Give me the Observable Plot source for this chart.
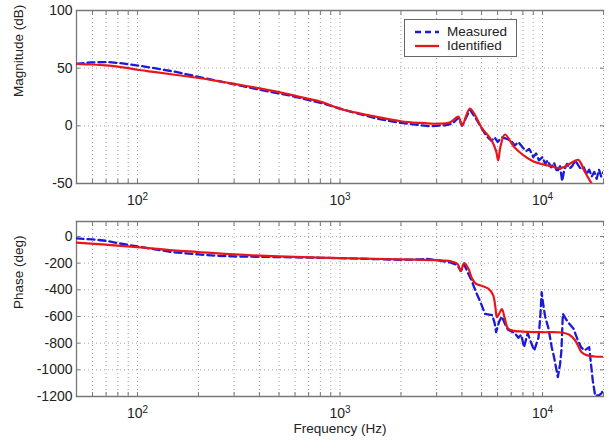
<!DOCTYPE html>
<html><head><meta charset="utf-8">
<script src="https://cdn.jsdelivr.net/npm/d3@7"></script>
<script src="https://cdn.jsdelivr.net/npm/@observablehq/plot@0.6"></script>
<style>
body{margin:0;background:#fff;}
#chart{position:relative;width:614px;height:443px;font-family:"Liberation Sans",Arial,sans-serif;color:#222;}
#chart svg{display:block;overflow:visible;}
.legend{position:absolute;left:404px;top:19px;width:113px;height:38px;box-sizing:border-box;border:1px solid #666;background:#fff;font-size:13.5px;}
.legend .row{position:absolute;left:0;height:14px;line-height:14px;}
.legend svg{position:absolute;left:10px;}
.legend span{position:absolute;left:42px;white-space:nowrap;}
</style></head><body>
<div id="chart"></div>
<script>
// ---- Data ----
const xDomain = [50, 20000];
const decadeTicks = [100, 1000, 10000];
const minorTicks = [60,70,80,90,100,200,300,400,500,600,700,800,900,1000,2000,3000,4000,5000,6000,7000,8000,9000,10000,20000];
const magTicks = [-50, 0, 50, 100];
const phaseTicks = [-1200, -1000, -800, -600, -400, -200, 0];
const seriesNames = ["Measured", "Identified"];

// Identified (fitted model)
const identMagFreq = [50,60,70,80,90,100,120,150,200,250,300,400,500,600,700,800,1000,1200,1500,2000,2500,3000,3500,3840,4010,4380,5000,5600,5900,6040,6200,6520,7300,8830,10670,12400,13900,15000,16200,17460,18500];
const identMag     = [53.8,53.2,52.4,51.3,50,48.6,46.8,44.5,41.5,38.8,36.4,32.5,29.2,26,23.4,21,14.8,11.5,8,4,2.5,1.8,3,8,0.3,15,-1.5,-12.5,-22,-30,-18,-7.5,-19,-30,-34.5,-36.5,-32,-29.5,-40,-50,-56];

const identPhFreq = [50,70,100,150,200,300,500,1000,2000,3000,3500,3800,3950,4100,4300,4500,4700,5000,5400,5700,5850,5950,6100,6300,6500,6750,7200,8000,10000,12400,13500,14500,15200,15600,16500,18000,20000];
const identPh     = [-47,-62,-80,-105,-117,-135,-150,-162,-172,-178,-185,-205,-258,-200,-240,-320,-355,-370,-392,-440,-530,-605,-580,-545,-610,-690,-708,-713,-718,-720,-735,-780,-840,-868,-890,-900,-902];

// Measured
const measMagFreq = [50,59,72,86,117,152,200,281,396,575,838,1000,1200,1500,2000,2500,2800,3000,3300,3600,3840,4010,4380,4700,5000,5300,5600,5800,6000,6300,6600,7000,7300,7600,8000,8300,8600,9000,9300,9600,10000,10300,10600,11000,11400,11800,12200,12500,12800,13200,13600,14000,14500,15000,15500,16000,16500,17000,17500,18000,18500,19000,19500,20000];
const measMag     = [53.8,55,55.3,54,50.5,47,42.5,37,31.5,26,19,15,11,6.5,2.5,0.5,-0.5,0,0.5,2,7,0,14,6,-2,-9,-13,-10,-14,-10,-11,-13,-17,-14,-19,-22,-20,-27,-24,-30,-27,-33,-30,-36,-32,-40,-35,-48,-38,-33,-37,-35,-30,-34,-38,-36,-42,-38,-44,-40,-46,-38,-44,-40];

const measPhFreq = [50,60,70,80,100,120,150,200,250,300,500,800,1000,1500,2000,2500,2700,3000,3500,3800,3950,4100,4300,4450,4700,4900,5200,5650,5800,5900,6100,6300,6500,6750,7300,7600,7850,8100,8450,8800,9100,9550,9750,9900,10100,10300,10700,11100,11400,11900,12200,12400,12600,13300,14200,14950,15500,16100,17000,17700,18200,19000,19500,20000];
const measPh     = [-15,-22,-33,-50,-75,-95,-118,-135,-145,-150,-155,-160,-163,-170,-175,-172,-168,-178,-195,-215,-260,-210,-280,-325,-420,-480,-580,-590,-650,-718,-640,-600,-650,-700,-725,-760,-737,-830,-725,-800,-855,-760,-600,-417,-520,-600,-690,-830,-905,-1055,-960,-855,-580,-640,-690,-780,-830,-855,-830,-1080,-1195,-1190,-1180,-1140];

const blue = "#1a1ad8", red = "#e8161b";

function pts(fs, vs) { return fs.map((f, i) => ({f, v: vs[i]})); }

function panel({height, marginTop, marginBottom, yDomain, yTicks, yLabel, meas, ident, xLabel}) {
  const inner = yTicks.filter(t => t > yDomain[0] && t < yDomain[1]);
  const marks = [
    Plot.gridX(minorTicks, {stroke: "#999", strokeOpacity: 0.9, strokeDasharray: "1,3"}),
    Plot.gridY(inner, {stroke: "#999", strokeOpacity: 0.9, strokeDasharray: "1,3"}),
    Plot.axisX(minorTicks, {anchor: "bottom", tickSize: 4, dy: -4, tickFormat: () => "", stroke: "#777", label: null}),
    Plot.axisX(minorTicks, {anchor: "top", tickSize: 4, dy: 4, tickFormat: () => "", stroke: "#777", label: null}),
    Plot.axisY(yTicks, {anchor: "left", tickSize: 4, dx: 4, tickFormat: () => "", stroke: "#777", label: null}),
    Plot.axisY(yTicks, {anchor: "right", tickSize: 4, dx: -4, tickFormat: () => "", stroke: "#777", label: null}),
    Plot.axisX(decadeTicks, {anchor: "bottom", tickSize: 0, tickPadding: 12, fontSize: 14, fill: "#222",
      tickFormat: d => `10^${Math.round(Math.log10(d))}`, label: null}),
    Plot.axisY(yTicks, {anchor: "left", tickSize: 0, tickPadding: 4, fontSize: 14, fill: "#222",
      tickFormat: d => String(d), label: null}),
    Plot.frame({anchor: "top", stroke: "#777", strokeWidth: 1.3}),
    Plot.frame({anchor: "left", stroke: "#777", strokeWidth: 1.3}),
    Plot.frame({anchor: "bottom", stroke: "#777", strokeWidth: 1.3}),
    Plot.line(meas, {x: "f", y: "v", stroke: blue, strokeWidth: 2.3, strokeDasharray: "7,4", clip: true}),
    Plot.line(ident, {x: "f", y: "v", stroke: red, strokeWidth: 2.2, curve: "catmull-rom", clip: true}),
    Plot.text([yLabel], {frameAnchor: "left", dx: -58, rotate: -90, fontSize: 13.5, fill: "#222"})
  ];
  if (xLabel) marks.push(Plot.text([xLabel], {frameAnchor: "bottom", dy: 36, fontSize: 13.5, fill: "#222"}));
  const svg = Plot.plot({
    width: 614, height, marginLeft: 76, marginRight: 11, marginTop, marginBottom,
    style: {fontFamily: '"Liberation Sans", Arial, sans-serif', background: "white", color: "#222"},
    x: {type: "log", domain: xDomain, label: null},
    y: {domain: yDomain, label: null},
    marks
  });
  d3.select(svg).selectAll("text").each(function () {
    const m = this.textContent.match(/^10\^(\d+)$/);
    if (m) {
      this.textContent = "10";
      d3.select(this).append("tspan").attr("dy", "-0.5em").attr("font-size", "10px").text(m[1]);
    }
  });
  return svg;
}

const chart = document.getElementById("chart");
chart.appendChild(panel({
  height: 208, marginTop: 10, marginBottom: 25, yDomain: [-50, 100], yTicks: magTicks,
  yLabel: "Magnitude (dB)", meas: pts(measMagFreq, measMag), ident: pts(identMagFreq, identMag)
}));
chart.appendChild(panel({
  height: 235, marginTop: 13, marginBottom: 47, yDomain: [-1200, 112], yTicks: phaseTicks,
  yLabel: "Phase (deg)", meas: pts(measPhFreq, measPh), ident: pts(identPhFreq, identPh), xLabel: "Frequency (Hz)"
}));

// Legend
const legend = document.createElement("div");
legend.className = "legend";
const styles = [{stroke: blue, dash: "6,4"}, {stroke: red, dash: null}];
seriesNames.forEach((name, i) => {
  const row = document.createElement("div");
  row.className = "row";
  row.style.top = (5 + i * 14) + "px";
  row.style.width = "100%";
  const s = d3.create("svg").attr("width", 24).attr("height", 14);
  s.append("line").attr("x1", 0).attr("x2", 24).attr("y1", 7).attr("y2", 7)
    .attr("stroke", styles[i].stroke).attr("stroke-width", 2.3)
    .attr("stroke-dasharray", styles[i].dash);
  row.appendChild(s.node());
  const t = document.createElement("span");
  t.textContent = name;
  row.appendChild(t);
  legend.appendChild(row);
});
chart.appendChild(legend);
</script>
</body></html>
